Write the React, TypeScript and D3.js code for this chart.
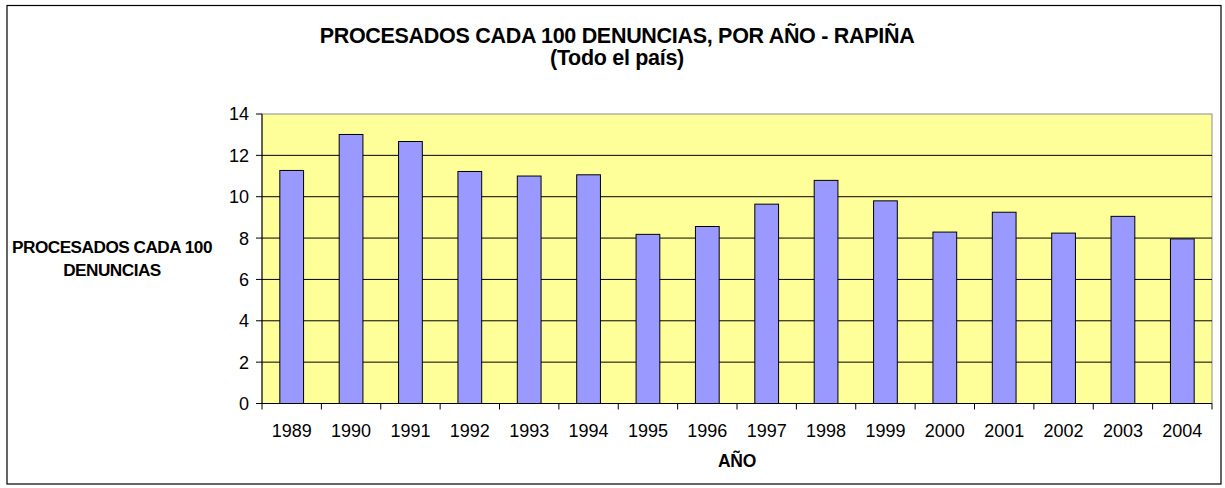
import React from "react";
import * as d3 from "d3";

const years = ["1989","1990","1991","1992","1993","1994","1995","1996","1997","1998","1999","2000","2001","2002","2003","2004"];
const values = [11.27, 13.01, 12.67, 11.22, 11.0, 11.06, 8.18, 8.56, 9.64, 10.79, 9.8, 8.29, 9.25, 8.24, 9.05, 7.96];
const yTicks = [0, 2, 4, 6, 8, 10, 12, 14];
const titleLines = ["PROCESADOS CADA 100 DENUNCIAS, POR AÑO - RAPIÑA", "(Todo el país)"];
const yLabelLines = ["PROCESADOS CADA 100", "DENUNCIAS"];
const xLabel = "AÑO";

const W = 1225, H = 488;
const plot = { left: 262, right: 1212, top: 114, bottom: 403.5 };
const font = "'Liberation Sans', Arial, Helvetica, sans-serif";

export default function App() {
  const x = d3.scaleBand<string>().domain(years).range([plot.left, plot.right]).padding(0);
  const y = d3.scaleLinear().domain([0, 14]).range([plot.bottom, plot.top]);
  const bw = x.bandwidth() * 0.4;
  return (
    <svg width={W} height={H} style={{ position: "absolute", left: 0, top: 0, background: "#fff" }} fontFamily={font}>
      <rect x={7} y={5.5} width={1214} height={478.5} fill="#fff" stroke="#000" strokeWidth={1.2} />
      <rect x={plot.left} y={plot.top} width={plot.right - plot.left} height={plot.bottom - plot.top} fill="#FFFF99" stroke="#8c8c8c" strokeWidth={1} />
      {yTicks.filter(t => t > 0 && t < 14).map(t => (
        <line key={t} x1={plot.left} x2={plot.right} y1={y(t)} y2={y(t)} stroke="#000" strokeWidth={1} />
      ))}
      {values.map((v, i) => {
        const cx = (x(years[i]) as number) + x.bandwidth() / 2;
        return (
          <rect key={years[i]} x={cx - bw / 2} y={y(v)} width={bw} height={plot.bottom - y(v)} fill="#9999FF" stroke="#000" strokeWidth={1} />
        );
      })}
      <line x1={plot.left} x2={plot.left} y1={plot.top} y2={plot.bottom} stroke="#000" strokeWidth={1} />
      <line x1={plot.left} x2={plot.right} y1={plot.bottom} y2={plot.bottom} stroke="#000" strokeWidth={1} />
      {yTicks.map(t => (
        <g key={t}>
          <line x1={plot.left - 6} x2={plot.left} y1={y(t)} y2={y(t)} stroke="#000" />
          <text x={249} y={y(t)} dy="0.36em" textAnchor="end" fontSize={18} fill="#000">{t}</text>
        </g>
      ))}
      {years.map((yr) => (
        <line key={"t" + yr} x1={(x(yr) as number)} x2={(x(yr) as number)} y1={plot.bottom} y2={plot.bottom + 6} stroke="#000" />
      ))}
      <line x1={plot.right} x2={plot.right} y1={plot.bottom} y2={plot.bottom + 6} stroke="#000" />
      {years.map(yr => (
        <text key={"l" + yr} x={(x(yr) as number) + x.bandwidth() / 2} y={431} dy="0.36em" textAnchor="middle" fontSize={18} fill="#000">{yr}</text>
      ))}
      <text x={(plot.left + plot.right) / 2} y={461} dy="0.36em" textAnchor="middle" fontSize={17.5} fontWeight="bold" letterSpacing={-0.3} fill="#000">{xLabel}</text>
      {titleLines.map((l, i) => (
        <text key={l} x={617} y={i === 0 ? 35 : 57.5} dy="0.36em" textAnchor="middle" fontSize={21.5} fontWeight="bold" letterSpacing={-0.3} fill="#000">{l}</text>
      ))}
      {yLabelLines.map((l, i) => (
        <text key={l} x={112} y={i === 0 ? 247 : 270} dy="0.36em" textAnchor="middle" fontSize={17.2} fontWeight="bold" letterSpacing={-0.5} fill="#000">{l}</text>
      ))}
    </svg>
  );
}
